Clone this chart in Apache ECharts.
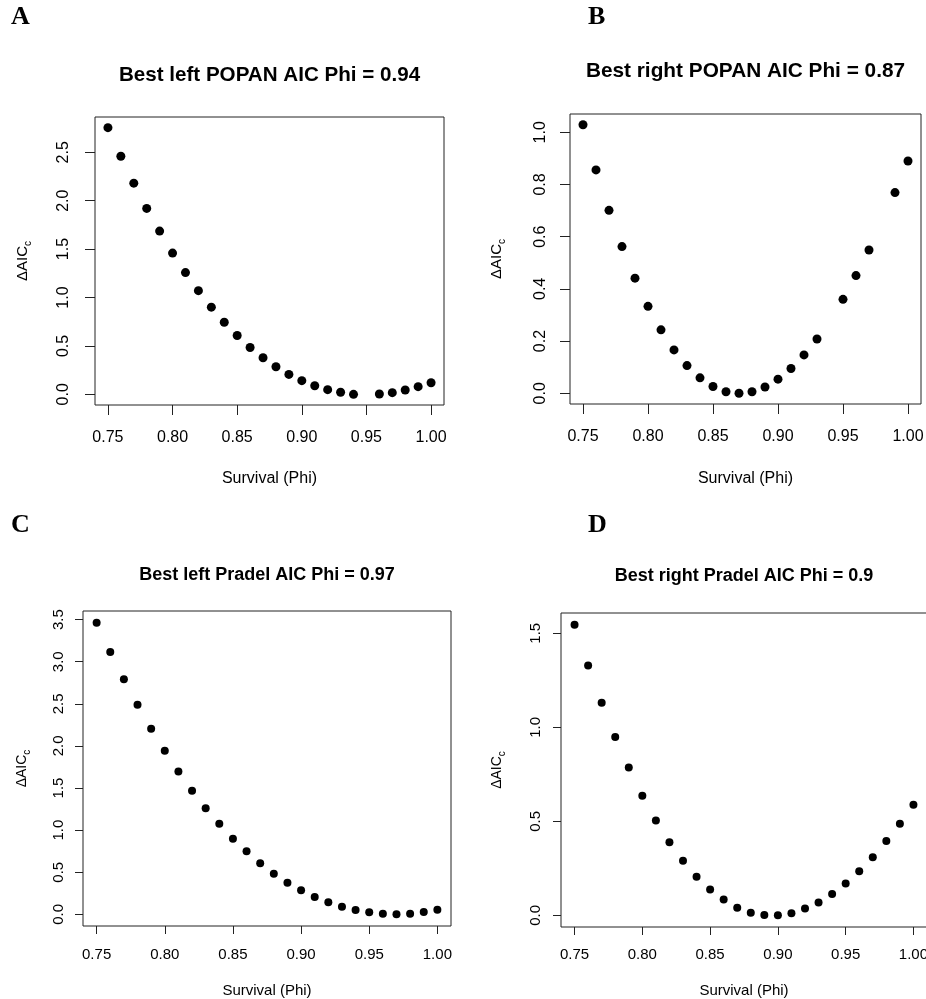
<!DOCTYPE html>
<html>
<head>
<meta charset="utf-8">
<script src="https://cdn.jsdelivr.net/npm/echarts@6/dist/echarts.min.js"></script>
<style>
    html, body { margin: 0; padding: 0; background: #fff; }
    #chart { width: 926px; height: 999px; }
</style>
</head>
<body>
<div id="chart"></div>
<script>
// survival values on the x axis (same for all four panels)
const phi = [0.75, 0.76, 0.77, 0.78, 0.79, 0.80, 0.81, 0.82, 0.83, 0.84, 0.85, 0.86, 0.87,
             0.88, 0.89, 0.90, 0.91, 0.92, 0.93, 0.94, 0.95, 0.96, 0.97, 0.98, 0.99, 1.00];

// delta AICc per phi, null = no point drawn
const popanLeft = [2.754, 2.459, 2.181, 1.920, 1.686, 1.459, 1.257, 1.071, 0.900, 0.745, 0.608, 0.484, 0.378,
                   0.285, 0.206, 0.141, 0.089, 0.048, 0.021, 0.000, null, 0.004, 0.017, 0.045, 0.079, 0.120];
const popanRight = [1.029, 0.856, 0.701, 0.562, 0.441, 0.333, 0.243, 0.166, 0.106, 0.059, 0.026, 0.006, 0.000,
                    0.006, 0.024, 0.054, 0.095, 0.147, 0.208, null, 0.360, 0.451, 0.549, null, 0.769, 0.890];
const pradelLeft = [3.464, 3.116, 2.791, 2.490, 2.205, 1.944, 1.695, 1.469, 1.259, 1.077, 0.899, 0.748, 0.606,
                    0.483, 0.376, 0.285, 0.206, 0.143, 0.091, 0.051, 0.024, 0.008, 0.000, 0.008, 0.028, 0.055];
const pradelRight = [1.546, 1.329, 1.130, 0.949, 0.786, 0.636, 0.505, 0.389, 0.291, 0.206, 0.137, 0.084, 0.041,
                     0.014, 0.002, 0.000, 0.011, 0.036, 0.068, 0.114, 0.169, 0.235, 0.309, 0.395, 0.487, 0.588];

// tick labels
const xTicks = [0.75, 0.80, 0.85, 0.90, 0.95, 1.00];
const yTicksA = [0, 0.5, 1.0, 1.5, 2.0, 2.5];
const yTicksB = [0, 0.2, 0.4, 0.6, 0.8, 1.0];
const yTicksC = [0, 0.5, 1.0, 1.5, 2.0, 2.5, 3.0, 3.5];
const yTicksD = [0, 0.5, 1.0, 1.5];

// texts
const letters = ['A', 'B', 'C', 'D'];
const titles = [
    'Best left POPAN AIC Phi = 0.94',
    'Best right POPAN AIC Phi = 0.87',
    'Best left Pradel AIC Phi = 0.97',
    'Best right Pradel AIC Phi = 0.9'
];
const xName = 'Survival (Phi)';

const FONT = '"Liberation Sans", Arial, Helvetica, sans-serif';
const SERIF = '"Liberation Serif", "Times New Roman", serif';

// panel layout (pixels)
const panels = [
    { vals: popanLeft, yTicks: yTicksA, left: 95, top: 117, width: 349, height: 288,
      fs: 16, tfs: 20.6, titleY: 75, letterX: 11, letterY: 17.5, tick: 10, xMargin: 25, yMargin: 23,
      xGap: 66, yGap: 62, dot: 9 },
    { vals: popanRight, yTicks: yTicksB, left: 570, top: 114, width: 351, height: 290,
      fs: 16, tfs: 20.8, titleY: 71, letterX: 588, letterY: 17.5, tick: 10, xMargin: 25, yMargin: 21,
      xGap: 67, yGap: 63, dot: 9 },
    { vals: pradelLeft, yTicks: yTicksC, left: 83, top: 611, width: 368, height: 315,
      fs: 15, tfs: 18, titleY: 575.5, letterX: 11, letterY: 525.5, tick: 8, xMargin: 21, yMargin: 17,
      xGap: 57, yGap: 51, dot: 8 },
    { vals: pradelRight, yTicks: yTicksD, left: 561, top: 613, width: 366, height: 314,
      fs: 15, tfs: 18, titleY: 576.5, letterX: 588, letterY: 525.5, tick: 8, xMargin: 20.5, yMargin: 18,
      xGap: 56, yGap: 54, dot: 8 }
];

// R style axis range: data range plus 4% each side
function rRange(arr) {
    const v = arr.filter(d => d !== null);
    const lo = Math.min(...v), hi = Math.max(...v);
    const pad = (hi - lo) * 0.04;
    return [lo - pad, hi + pad];
}

const chart = echarts.init(document.getElementById('chart'), null, { renderer: 'canvas' });

const grid = [], xAxis = [], yAxis = [], series = [], graphic = [];
const xr = rRange(phi);

panels.forEach((p, i) => {
    const yr = rRange(p.vals);
    grid.push({
        left: p.left, top: p.top, width: p.width, height: p.height,
        outerBoundsMode: 'none', containLabel: false,
        show: true, borderColor: '#222', borderWidth: 1, backgroundColor: 'transparent'
    });
    xAxis.push({
        type: 'value', gridIndex: i, min: xr[0], max: xr[1],
        name: xName, nameLocation: 'middle', nameGap: p.xGap,
        nameTextStyle: { fontFamily: FONT, fontSize: p.fs, color: '#000' },
        axisLine: { show: false, onZero: false },
        splitLine: { show: false },
        axisTick: { show: true, inside: false, length: p.tick, customValues: xTicks,
                    lineStyle: { color: '#222', width: 1 } },
        axisLabel: { customValues: xTicks, margin: p.xMargin, fontFamily: FONT, fontSize: p.fs,
                     color: '#000', formatter: v => v.toFixed(2) }
    });
    yAxis.push({
        type: 'value', gridIndex: i, min: yr[0], max: yr[1],
        name: '{m|ΔAIC}{s|c}', nameLocation: 'middle', nameGap: p.yGap, nameRotate: 90,
        nameTextStyle: {
            rich: {
                m: { fontFamily: FONT, fontSize: p.fs - 1, lineHeight: 20, color: '#000' },
                s: { fontFamily: FONT, fontSize: Math.round(p.fs * 0.65), lineHeight: 10,
                     verticalAlign: 'bottom', color: '#000' }
            }
        },
        axisLine: { show: false, onZero: false },
        splitLine: { show: false },
        axisTick: { show: true, inside: false, length: p.tick, customValues: p.yTicks,
                    lineStyle: { color: '#222', width: 1 } },
        axisLabel: { customValues: p.yTicks, rotate: 90, margin: p.yMargin, fontFamily: FONT,
                     fontSize: p.fs, color: '#000', formatter: v => v.toFixed(1) }
    });
    series.push({
        type: 'scatter', xAxisIndex: i, yAxisIndex: i,
        symbol: 'circle', symbolSize: p.dot,
        itemStyle: { color: '#000', opacity: 1 },
        data: phi.map((x, k) => p.vals[k] === null ? null : [x, p.vals[k]]).filter(d => d)
    });
    // panel title
    graphic.push({
        type: 'text', x: p.left + p.width / 2, y: p.titleY,
        style: { text: titles[i], align: 'center', verticalAlign: 'middle',
                 font: `bold ${p.tfs}px ${FONT}`, fill: '#000' }
    });
    // panel letter
    graphic.push({
        type: 'text', x: p.letterX, y: p.letterY,
        style: { text: letters[i], align: 'left', verticalAlign: 'middle',
                 font: `bold 26px ${SERIF}`, fill: '#000' }
    });
});

chart.setOption({
    animation: false,
    backgroundColor: '#fff',
    grid: grid,
    xAxis: xAxis,
    yAxis: yAxis,
    series: series,
    graphic: graphic
});
</script>
</body>
</html>
